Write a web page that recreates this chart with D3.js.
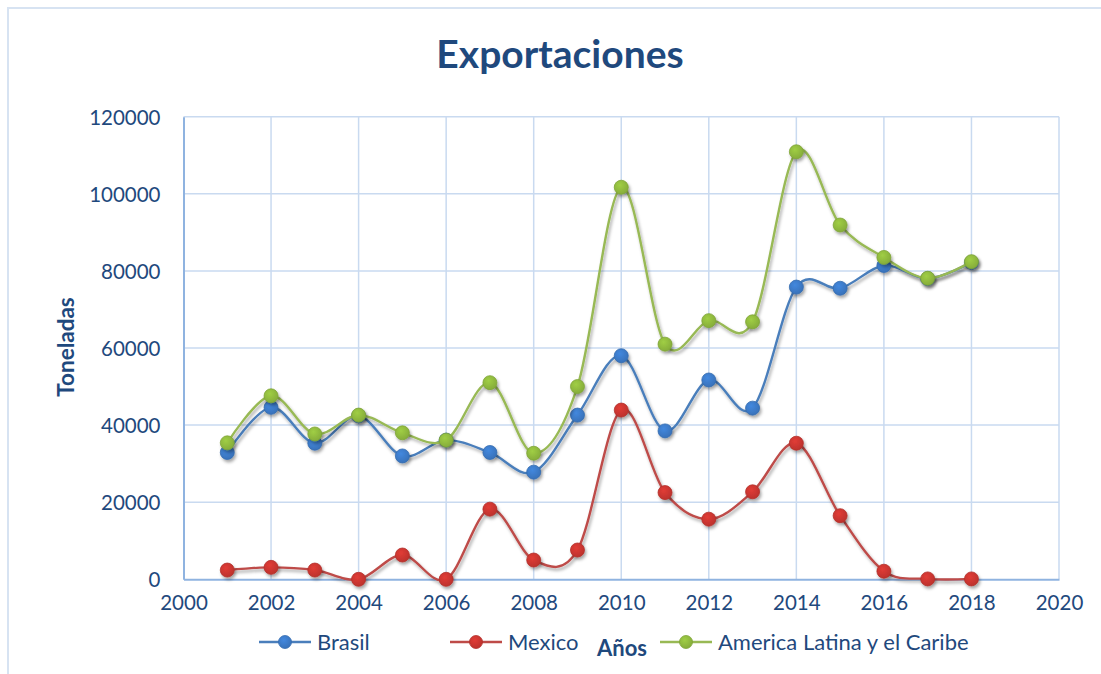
<!DOCTYPE html>
<html>
<head>
<meta charset="utf-8">
<script src="https://cdn.jsdelivr.net/npm/d3@7"></script>
<style>
  html, body { margin: 0; padding: 0; background: #ffffff; }
  svg { display: block; font-family: Lato, "Open Sans", sans-serif; }
</style>
</head>
<body>
<svg id="chart" width="1101" height="674"></svg>
<script>
// Export tonnage per year
const years = [2001, 2002, 2003, 2004, 2005, 2006, 2007, 2008, 2009, 2010, 2011, 2012, 2013, 2014, 2015, 2016, 2017, 2018];
const brasil = [32900, 44600, 35300, 42400, 32000, 36100, 32900, 27800, 42600, 58000, 38500, 51700, 44400, 75800, 75500, 81400, 78000, 82200];
const mexico = [2400, 3100, 2400, 0, 6300, 0, 18200, 5000, 7600, 43900, 22500, 15600, 22700, 35300, 16500, 2100, 100, 100];
const latam = [35400, 47600, 37700, 42600, 38000, 36100, 51000, 32700, 50000, 101700, 61000, 67100, 66800, 110900, 91900, 83500, 78100, 82400];

const seriesNames = ["Brasil", "Mexico", "America Latina y el Caribe"];
const lineColors = ["#4a7ebb", "#be4b48", "#98b954"];
const markerColors = ["#3b78c4", "#c73530", "#8db63d"];

const xTicks = [2000, 2002, 2004, 2006, 2008, 2010, 2012, 2014, 2016, 2018, 2020];
const yTicks = [0, 20000, 40000, 60000, 80000, 100000, 120000];

const titleText = "Exportaciones";
const xTitle = "Años";
const yTitle = "Toneladas";

const svg = d3.select("#chart");
const textColor = "#1f497d";

// chart frame
svg.append("rect")
  .attr("x", 8).attr("y", 8)
  .attr("width", 1120).attr("height", 700)
  .attr("fill", "#ffffff")
  .attr("stroke", "#d7e3f2")
  .attr("stroke-width", 2);

// drop shadow for markers
const defs = svg.append("defs");
const f = defs.append("filter").attr("id", "shadow")
  .attr("x", "-60%").attr("y", "-60%").attr("width", "220%").attr("height", "220%");
f.append("feDropShadow")
  .attr("dx", 1.5).attr("dy", 2.5).attr("stdDeviation", 1.6)
  .attr("flood-color", "#000").attr("flood-opacity", 0.35);

markerColors.forEach((c, i) => {
  const g = defs.append("radialGradient").attr("id", "mk" + i)
    .attr("cx", "40%").attr("cy", "35%").attr("r", "65%");
  g.append("stop").attr("offset", "0%").attr("stop-color", d3.color(c).brighter(0.35));
  g.append("stop").attr("offset", "100%").attr("stop-color", d3.color(c).darker(0.15));
});

const x = d3.scaleLinear().domain([2000, 2020]).range([183.5, 1059]);
const y = d3.scaleLinear().domain([0, 120000]).range([579.3, 116.7]);

// grid
const grid = svg.append("g").attr("stroke", "#c9daf0").attr("stroke-width", 1.5);
grid.selectAll("line.h").data(yTicks.slice(1)).enter().append("line")
  .attr("x1", x(2000)).attr("x2", x(2020))
  .attr("y1", d => y(d)).attr("y2", d => y(d));
grid.selectAll("line.v").data(xTicks.slice(1)).enter().append("line")
  .attr("x1", d => x(d)).attr("x2", d => x(d))
  .attr("y1", y(0)).attr("y2", y(120000));

// axes
const xAxis = svg.append("g").attr("transform", `translate(0,${y(0)})`)
  .call(d3.axisBottom(x).tickValues(xTicks).tickFormat(d3.format("d")).tickSize(0).tickPadding(16));
const yAxis = svg.append("g").attr("transform", `translate(${x(2000)},0)`)
  .call(d3.axisLeft(y).tickValues(yTicks).tickFormat(d3.format("d")).tickSize(0).tickPadding(23));
[xAxis, yAxis].forEach(a => {
  a.select(".domain").attr("stroke", "#8fb3e0").attr("stroke-width", 2);
  a.selectAll("text").attr("fill", textColor).attr("font-size", 20.5)
    .attr("font-family", "Lato, sans-serif");
});
yAxis.selectAll("text").attr("dy", "0.36em");

// series
const allSeries = [brasil, mexico, latam];
const line = d3.line()
  .x((d, i) => x(years[i]))
  .y(d => y(d))
  .curve(d3.curveCatmullRom.alpha(0));

allSeries.forEach((vals, si) => {
  const g = svg.append("g");
  g.append("path")
    .datum(vals)
    .attr("d", line)
    .attr("fill", "none")
    .attr("stroke", lineColors[si])
    .attr("stroke-width", 2.4)
    .attr("filter", "url(#shadow)");
  g.selectAll("circle").data(vals).enter().append("circle")
    .attr("cx", (d, i) => x(years[i]))
    .attr("cy", d => y(d))
    .attr("r", 7)
    .attr("fill", `url(#mk${si})`)
    .attr("stroke", d3.color(markerColors[si]).darker(0.3))
    .attr("stroke-width", 0.8)
    .attr("filter", "url(#shadow)");
});

// title
svg.append("text")
  .attr("x", 560).attr("y", 68)
  .attr("text-anchor", "middle")
  .attr("font-size", 39).attr("font-weight", "bold")
  .attr("fill", textColor)
  .text(titleText);

// axis titles
svg.append("text")
  .attr("x", 597).attr("y", 656)
  .attr("font-size", 22).attr("font-weight", "bold")
  .attr("fill", textColor)
  .text(xTitle);
svg.append("text")
  .attr("transform", "translate(74,347) rotate(-90)")
  .attr("text-anchor", "middle")
  .attr("font-size", 22.5).attr("font-weight", "bold")
  .attr("fill", textColor)
  .text(yTitle);

// legend
const legendX = [259, 450, 660];
const legend = svg.append("g");
seriesNames.forEach((name, i) => {
  const lg = legend.append("g").attr("transform", `translate(${legendX[i]},642)`);
  lg.append("line").attr("x1", 0).attr("x2", 52).attr("y1", 0).attr("y2", 0)
    .attr("stroke", lineColors[i]).attr("stroke-width", 2.4);
  lg.append("circle").attr("cx", 26).attr("cy", 0).attr("r", 6.5)
    .attr("fill", `url(#mk${i})`)
    .attr("stroke", d3.color(markerColors[i]).darker(0.3)).attr("stroke-width", 0.8);
  lg.append("text").attr("x", 58).attr("y", 0).attr("dy", "0.35em")
    .attr("font-size", 22).attr("fill", textColor).text(name);
});
</script>
</body>
</html>
